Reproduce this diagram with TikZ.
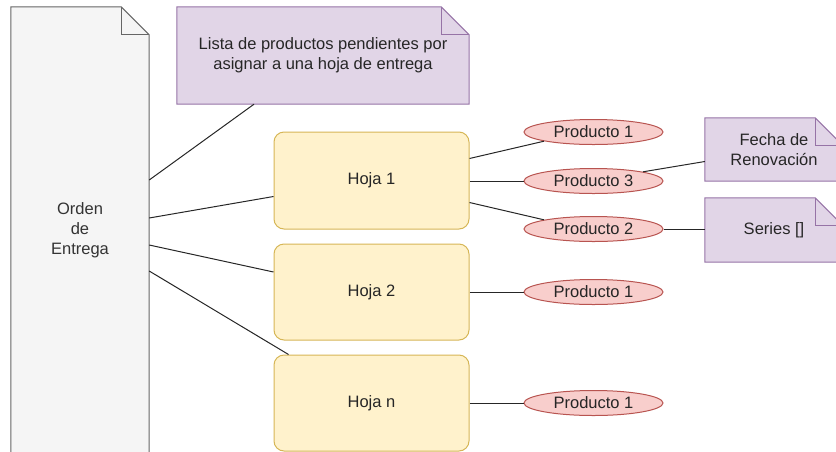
\documentclass[tikz,border=0pt]{standalone}
\usepackage{fontspec}
\setmainfont{Liberation Sans}
\usetikzlibrary{shapes.geometric,backgrounds}

\definecolor{docfill}{HTML}{F5F5F5}
\definecolor{docline}{HTML}{666666}
\definecolor{doctext}{HTML}{333333}
\definecolor{notafill}{HTML}{E1D5E7}
\definecolor{notaline}{HTML}{9673A6}
\definecolor{hojafill}{HTML}{FFF2CC}
\definecolor{hojaline}{HTML}{D6B656}
\definecolor{prodfill}{HTML}{F8CECC}
\definecolor{prodline}{HTML}{B85450}

\begin{document}
\begin{tikzpicture}[x=1pt, y=-1pt,
        txt/.style={font=\fontsize{16.5}{20}\selectfont, align=center, text=black!85},
        hoja/.style={txt, draw=hojaline, fill=hojafill, line width=1pt, rounded corners=10pt,
            minimum width=195pt, inner sep=0pt},
        prod/.style={txt, ellipse, draw=prodline, fill=prodfill, line width=1pt,
            minimum width=139pt, minimum height=25pt, inner sep=0pt},
        nota/.style={txt, inner sep=0pt},
        enlace/.style={draw=black!85, line width=1pt}]
    \clip (0,0) rectangle (836,451);

    % documento y notas
    \node[nota, text=doctext, minimum width=138pt, minimum height=446pt] (orden) at (80,230) {Orden\\de\\Entrega};
    \node[nota, minimum width=292pt, minimum height=97pt] (lista) at (323,55.5)
        {Lista de productos pendientes por\\asignar a una hoja de entrega};
    \node[nota, minimum width=138pt, minimum height=63pt] (fecha) at (774,149.5) {Fecha de\\Renovación};
    \node[nota, minimum width=138pt, minimum height=64pt] (series) at (774,230) {Series []};

    % hojas
    \node[hoja, minimum height=97pt] (hoja1) at (371.5,180.5) {Hoja 1};
    \node[hoja, minimum height=96pt] (hoja2) at (371.5,292) {Hoja 2};
    \node[hoja, minimum height=96pt] (hojan) at (371.5,403) {Hoja n};

    % productos
    \node[prod] (p11) at (593.5,132) {Producto 1};
    \node[prod] (p13) at (593.5,181) {Producto 3};
    \node[prod] (p12) at (593.5,229) {Producto 2};
    \node[prod] (p21) at (593.5,292) {Producto 1};
    \node[prod] (pn1) at (593.5,403) {Producto 1};

    \begin{scope}[on background layer]
        \foreach \n/\f/\d in {orden/docfill/docline, lista/notafill/notaline,
                fecha/notafill/notaline, series/notafill/notaline} {
            \filldraw[fill=\f, draw=\d, line width=1pt] (\n.north west)
                -- ([xshift=-28pt]\n.north east) -- ([yshift=-28pt]\n.north east)
                -- (\n.south east) -- (\n.south west) -- cycle;
            \draw[\d, line width=1pt] ([xshift=-28pt]\n.north east)
                -- ([xshift=-28pt, yshift=-28pt]\n.north east) -- ([yshift=-28pt]\n.north east);
        }
    \end{scope}

    \draw[enlace] ([yshift=50pt]orden.east) -- ([xshift=-69pt]lista.south);
    \draw[enlace] ([yshift=12pt]orden.east) -- ([yshift=-16pt]hoja1.west);
    \draw[enlace] ([yshift=-15pt]orden.east) -- ([yshift=20pt]hoja2.west);
    \draw[enlace] ([yshift=-41pt]orden.east) -- ([xshift=15pt]hojan.north west);

    \draw[enlace] ([yshift=22pt]hoja1.east) -- (p11.south west);
    \draw[enlace] (hoja1.east |- p13.west) -- (p13.west);
    \draw[enlace] ([yshift=-22pt]hoja1.east) -- (p12.north west);
    \draw[enlace] (hoja2.east) -- (p21.west);
    \draw[enlace] (hojan.east) -- (pn1.west);

    \draw[enlace] (p13.north east) -- ([yshift=-12pt]fecha.west);
    \draw[enlace] (p12.east) -- (series.west |- p12.east);
\end{tikzpicture}
\end{document}
